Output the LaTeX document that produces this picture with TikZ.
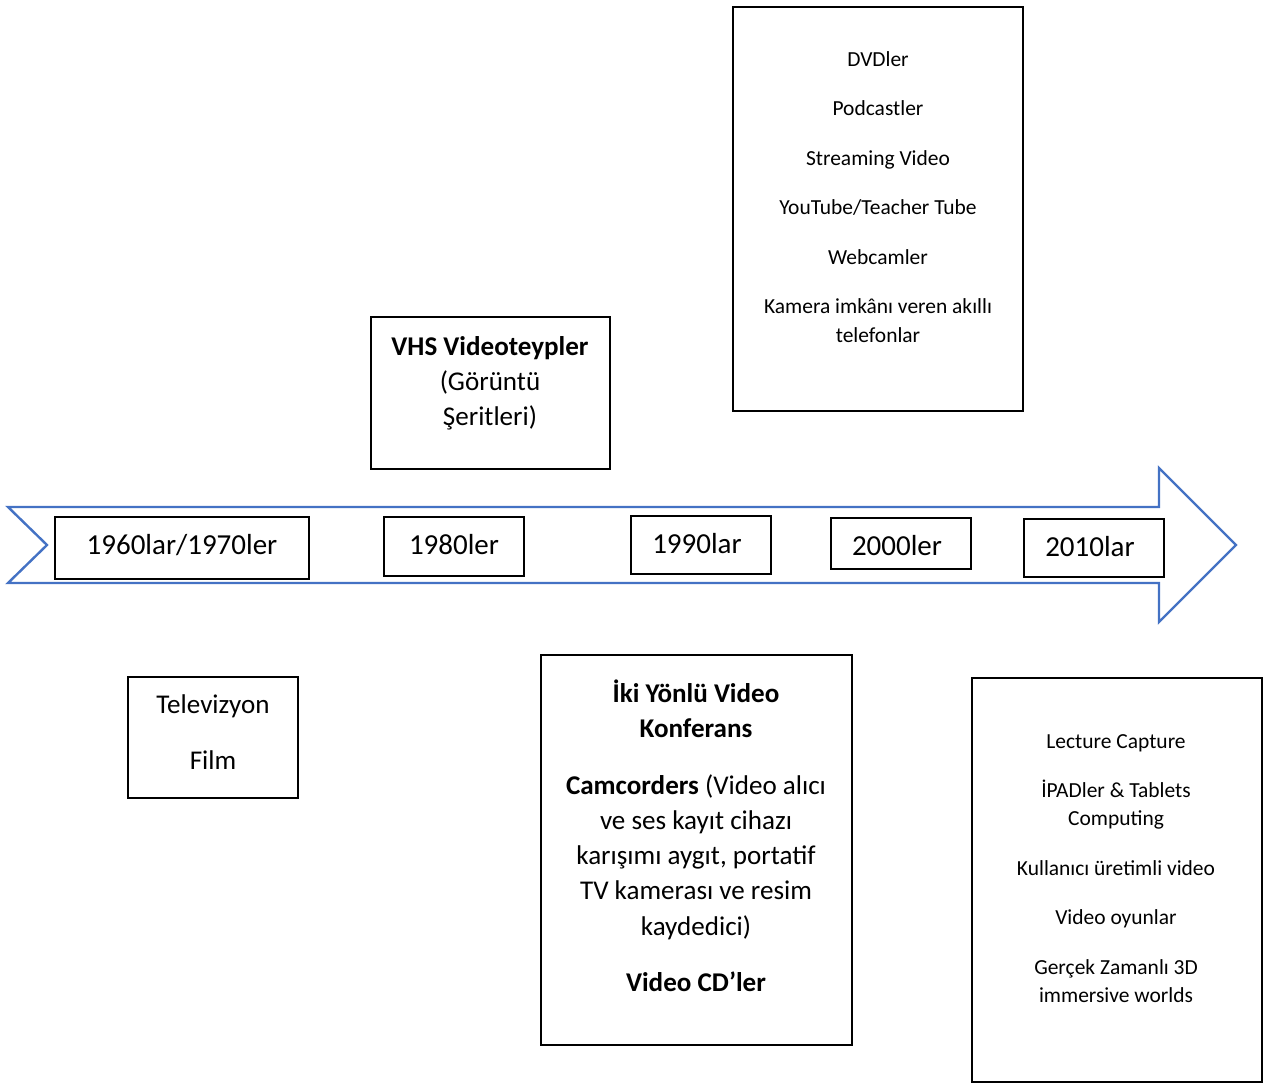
\documentclass[tikz,border=0pt]{standalone}
\usepackage{fontspec}
\setmainfont{Carlito}
\newcommand\pxu{0.75pt}
\definecolor{arrowblue}{HTML}{4472C4}
\begin{document}
\begin{tikzpicture}[x=0.75pt,y=-0.75pt,
  box/.style={draw=black,line width=1.6*\pxu,fill=white,inner sep=0pt,outer sep=0pt},
  lbl/.style={font=\fontsize{21.75}{26}\selectfont,inner sep=0pt,text height=1.24em,text depth=0pt},
  mid/.style={font=\fontsize{20.3}{24}\selectfont,inner sep=0pt,text height=1.24em,text depth=0pt},
  sml/.style={font=\fontsize{16.1}{19}\selectfont,inner sep=0pt,text height=1.02em,text depth=0pt}]
\useasboundingbox (0,0) rectangle (1264,1086);

% timeline arrow
\draw[arrowblue,line width=2.4*\pxu,line join=miter,fill=white]
  (8,507) -- (1159,507) -- (1159,468) -- (1236,545) -- (1159,622)
  -- (1159,583) -- (8,583) -- (47,545) -- cycle;

% decade boxes on the arrow
\node[box,minimum width=254*\pxu,minimum height=62*\pxu] (d60) at (182,548) {};
\node[box,minimum width=140*\pxu,minimum height=59*\pxu] (d80) at (454,546.5) {};
\node[box,minimum width=140*\pxu,minimum height=58*\pxu] (d90) at (701,545) {};
\node[box,minimum width=140*\pxu,minimum height=51*\pxu] (d00) at (901,543.5) {};
\node[box,minimum width=140*\pxu,minimum height=58*\pxu] (d10) at (1094,548) {};
\node[lbl] (t60) at (182,546) {1960lar/1970ler};
\node[lbl] (t80) at (454,546) {1980ler};
\node[lbl] (t90) at (697,545) {1990lar};
\node[lbl] (t00) at (897,547) {2000ler};
\node[lbl] (t10) at (1090,548) {2010lar};

% 1980s
\node[box,minimum width=239*\pxu,minimum height=152*\pxu] (vhs) at (490.5,393) {};
\node[mid] (vhs1) at (490,347) {\textbf{VHS Videoteypler}};
\node[mid] (vhs2) at (490,382) {(Görüntü};
\node[mid] (vhs3) at (490,417) {Şeritleri)};

% 2000s
\node[box,minimum width=290*\pxu,minimum height=404*\pxu] (top) at (878,209) {};
\node[sml] (a1) at (878,60) {DVDler};
\node[sml] (a2) at (878,109) {Podcastler};
\node[sml] (a3) at (878,159) {Streaming Video};
\node[sml] (a4) at (878,208) {YouTube/Teacher Tube};
\node[sml] (a5) at (878,258) {Webcamler};
\node[sml] (a6) at (878,307) {Kamera imkânı veren akıllı};
\node[sml] (a7) at (878,336) {telefonlar};

% 1960s/1970s
\node[box,minimum width=170*\pxu,minimum height=121*\pxu] (tv) at (213,737.5) {};
\node[mid] (tv1) at (213,705) {Televizyon};
\node[mid] (tv2) at (213,761) {Film};

% 1990s
\node[box,minimum width=311*\pxu,minimum height=390*\pxu] (conf) at (696.5,850) {};
\node[mid] (c1) at (696,694) {\textbf{İki Yönlü Video}};
\node[mid] (c2) at (696,729) {\textbf{Konferans}};
\node[mid] (c3) at (696,786) {\textbf{Camcorders} (Video alıcı};
\node[mid] (c4) at (696,821) {ve ses kayıt cihazı};
\node[mid] (c5) at (696,856) {karışımı aygıt, portatif};
\node[mid] (c6) at (696,891) {TV kamerası ve resim};
\node[mid] (c7) at (696,927) {kaydedici)};
\node[mid] (c8) at (696,983) {\textbf{Video CD’ler}};

% 2010s
\node[box,minimum width=290*\pxu,minimum height=404*\pxu] (now) at (1117,880) {};
\node[sml] (b1) at (1116,742) {Lecture Capture};
\node[sml] (b2) at (1116,791) {İPADler \& Tablets};
\node[sml] (b3) at (1116,819) {Computing};
\node[sml] (b4) at (1116,869) {Kullanıcı üretimli video};
\node[sml] (b5) at (1116,918) {Video oyunlar};
\node[sml] (b6) at (1116,968) {Gerçek Zamanlı 3D};
\node[sml] (b7) at (1116,996) {immersive worlds};
\end{tikzpicture}
\end{document}
